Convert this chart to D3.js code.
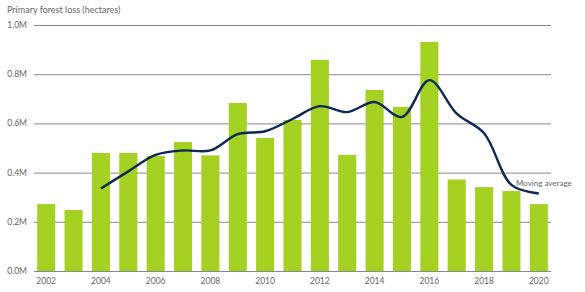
<!DOCTYPE html>
<html>
<head>
<meta charset="utf-8">
<script src="https://cdn.jsdelivr.net/npm/d3@7"></script>
<style>
  body { margin: 0; background: #fff; }
  text { font-family: Lato, "Open Sans", sans-serif; }
</style>
</head>
<body>
<script>
const years = d3.range(2002, 2021)
const loss = [0.272, 0.248, 0.48, 0.48, 0.468, 0.524, 0.47, 0.683, 0.541, 0.614,
  0.858, 0.472, 0.736, 0.667, 0.931, 0.372, 0.341, 0.325, 0.272]
const maYears = d3.range(2004, 2021)
const movingAvg = [0.335, 0.405, 0.472, 0.49, 0.49, 0.556, 0.568, 0.618, 0.67, 0.646,
  0.687, 0.626, 0.776, 0.64, 0.56, 0.35, 0.315]
const yTicks = [0, 0.2, 0.4, 0.6, 0.8, 1.0]
const xTickYears = [2002, 2004, 2006, 2008, 2010, 2012, 2014, 2016, 2018, 2020]

const width = 585
const height = 292

const svg = d3.select('body').append('svg')
  .attr('width', width)
  .attr('height', height)

const x = d3.scaleBand()
  .domain(years)
  .range([32.5, 552.5])
  .paddingInner(0.34)
  .paddingOuter(0.17)

const y = d3.scaleLinear()
  .domain([0, 1])
  .range([271, 25])

svg.append('text')
  .attr('x', 7)
  .attr('y', 13)
  .text('Primary forest loss (hectares)')
  .style('font-size', '9px')
  .style('fill', '#666')

// gridlines
svg.append('g')
  .selectAll('line')
  .data(yTicks)
  .enter().append('line')
  .attr('x1', 34)
  .attr('x2', 551)
  .attr('y1', d => y(d) + 0.5)
  .attr('y2', d => y(d) + 0.5)
  .style('stroke', '#8a8a8a')
  .style('stroke-width', 1)

svg.append('g')
  .selectAll('text')
  .data(yTicks)
  .enter().append('text')
  .attr('x', 27)
  .attr('y', d => y(d) + 3)
  .attr('text-anchor', 'end')
  .text(d => d.toFixed(1) + 'M')
  .style('font-size', '8.5px')
  .style('fill', '#666')

svg.append('g')
  .selectAll('rect')
  .data(loss)
  .enter().append('rect')
  .attr('x', (d, i) => x(years[i]))
  .attr('width', x.bandwidth())
  .attr('y', d => y(d))
  .attr('height', d => y(0) - y(d))
  .style('fill', '#a4d122')

svg.append('g')
  .selectAll('text')
  .data(xTickYears)
  .enter().append('text')
  .attr('x', d => x(d) + x.bandwidth() / 2)
  .attr('y', 284)
  .attr('text-anchor', 'middle')
  .text(d => d)
  .style('font-size', '8.5px')
  .style('fill', '#666')

const line = d3.line()
  .x((d, i) => x(maYears[i]) + x.bandwidth() / 2)
  .y(d => y(d))
  .curve(d3.curveCatmullRom.alpha(0.5))

svg.append('path')
  .datum(movingAvg)
  .attr('d', line)
  .style('fill', 'none')
  .style('stroke', '#0c2a55')
  .style('stroke-width', 2.4)

svg.append('text')
  .attr('x', 516)
  .attr('y', 186)
  .text('Moving average')
  .style('font-size', '8px')
  .style('fill', '#666')
</script>
</body>
</html>
